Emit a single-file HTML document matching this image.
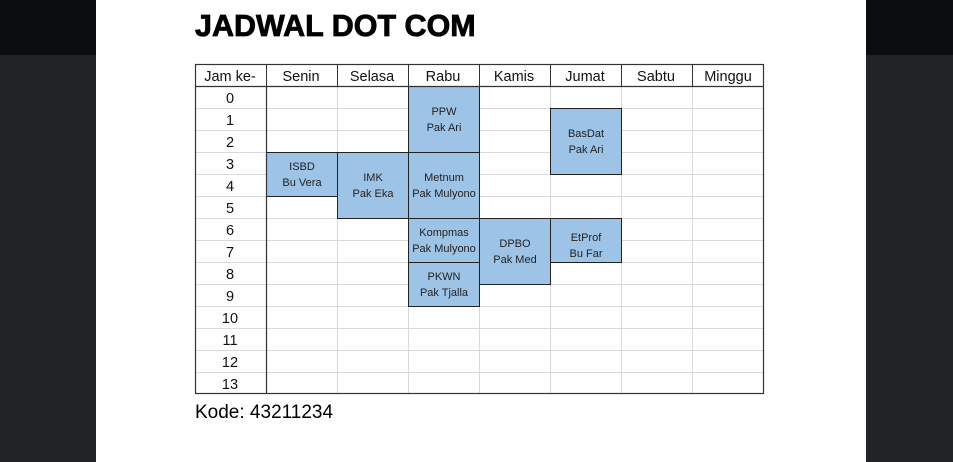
<!DOCTYPE html>
<html><head><meta charset="utf-8"><style>
html,body{margin:0;padding:0;width:953px;height:462px;overflow:hidden;background:#222326;font-family:"Liberation Sans","DejaVu Sans",sans-serif}
.top{position:absolute;left:0;top:0;width:953px;height:55px;background:#0c0d0f}
.page{position:absolute;left:96px;top:0;width:770px;height:462px;background:#fff}
.t{position:absolute;left:195px;top:9px;font-size:30.5px;font-weight:bold;color:#000;letter-spacing:0;-webkit-text-stroke:0.8px #000}
.k{position:absolute;left:195px;top:402px;font-size:19px;color:#000}
svg{position:absolute;left:0;top:0}
</style></head><body>
<div class="top"></div>
<div class="page"></div>
<div class="t">JADWAL DOT COM</div>
<svg width="953" height="462" font-family="Liberation Sans, DejaVu Sans, sans-serif">
<g stroke="#d9d9d9" stroke-width="1">
<line x1="195" y1="108.5" x2="764" y2="108.5"/><line x1="195" y1="130.5" x2="764" y2="130.5"/><line x1="195" y1="152.5" x2="764" y2="152.5"/><line x1="195" y1="174.5" x2="764" y2="174.5"/><line x1="195" y1="196.5" x2="764" y2="196.5"/><line x1="195" y1="218.5" x2="764" y2="218.5"/><line x1="195" y1="240.5" x2="764" y2="240.5"/><line x1="195" y1="262.5" x2="764" y2="262.5"/><line x1="195" y1="284.5" x2="764" y2="284.5"/><line x1="195" y1="306.5" x2="764" y2="306.5"/><line x1="195" y1="328.5" x2="764" y2="328.5"/><line x1="195" y1="350.5" x2="764" y2="350.5"/><line x1="195" y1="372.5" x2="764" y2="372.5"/>
<line x1="337.5" y1="86" x2="337.5" y2="394"/><line x1="408.5" y1="86" x2="408.5" y2="394"/><line x1="479.5" y1="86" x2="479.5" y2="394"/><line x1="550.5" y1="86" x2="550.5" y2="394"/><line x1="621.5" y1="86" x2="621.5" y2="394"/><line x1="692.5" y1="86" x2="692.5" y2="394"/>
</g>
<g stroke="#333" stroke-width="1">
<line x1="266.5" y1="64" x2="266.5" y2="86"/><line x1="337.5" y1="64" x2="337.5" y2="86"/><line x1="408.5" y1="64" x2="408.5" y2="86"/><line x1="479.5" y1="64" x2="479.5" y2="86"/><line x1="550.5" y1="64" x2="550.5" y2="86"/><line x1="621.5" y1="64" x2="621.5" y2="86"/><line x1="692.5" y1="64" x2="692.5" y2="86"/>
</g>
<g fill="#9dc3e6" stroke="#222" stroke-width="1">
<rect x="408.5" y="86.5" width="71" height="66"/>
<rect x="550.5" y="108.5" width="71" height="66"/>
<rect x="266.5" y="152.5" width="71" height="44"/>
<rect x="337.5" y="152.5" width="71" height="66"/>
<rect x="408.5" y="152.5" width="71" height="66"/>
<rect x="408.5" y="218.5" width="71" height="44"/>
<rect x="408.5" y="262.5" width="71" height="44"/>
<rect x="479.5" y="218.5" width="71" height="66"/>
<rect x="550.5" y="218.5" width="71" height="44"/>
</g>
<rect x="195.5" y="64.5" width="568" height="329" fill="none" stroke="#333" stroke-width="1.2"/>
<line x1="195" y1="86.5" x2="764" y2="86.5" stroke="#333" stroke-width="1.2"/>
<line x1="266.5" y1="86" x2="266.5" y2="394" stroke="#333" stroke-width="1.2"/>
<g font-size="14.5" text-anchor="middle" fill="#111">
<text x="230" y="81">Jam ke-</text><text x="301" y="81">Senin</text><text x="372" y="81">Selasa</text><text x="443" y="81">Rabu</text><text x="514" y="81">Kamis</text><text x="585" y="81">Jumat</text><text x="656" y="81">Sabtu</text><text x="728" y="81">Minggu</text>
<text x="230" y="103">0</text><text x="230" y="125">1</text><text x="230" y="147">2</text><text x="230" y="169">3</text><text x="230" y="191">4</text><text x="230" y="213">5</text><text x="230" y="235">6</text><text x="230" y="257">7</text><text x="230" y="279">8</text><text x="230" y="301">9</text><text x="230" y="323">10</text><text x="230" y="345">11</text><text x="230" y="367">12</text><text x="230" y="389">13</text>
</g>
<g font-size="11" text-anchor="middle" fill="#222">
<text x="444" y="115">PPW</text><text x="444" y="131">Pak Ari</text>
<text x="586" y="137">BasDat</text><text x="586" y="153">Pak Ari</text>
<text x="302" y="170">ISBD</text><text x="302" y="186">Bu Vera</text>
<text x="373" y="181">IMK</text><text x="373" y="197">Pak Eka</text>
<text x="444" y="181">Metnum</text><text x="444" y="197">Pak Mulyono</text>
<text x="444" y="236">Kompmas</text><text x="444" y="252">Pak Mulyono</text>
<text x="444" y="280">PKWN</text><text x="444" y="296">Pak Tjalla</text>
<text x="515" y="247">DPBO</text><text x="515" y="263">Pak Med</text>
<text x="586" y="241">EtProf</text><text x="586" y="257">Bu Far</text>
</g>
</svg>
<div class="k">Kode: 43211234</div>
</body></html>
